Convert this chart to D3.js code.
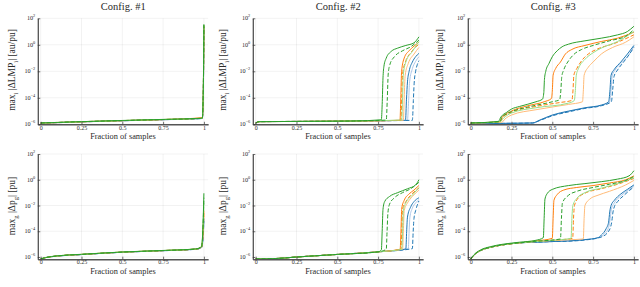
<!DOCTYPE html>
<html><head><meta charset="utf-8">
<script src="https://cdn.jsdelivr.net/npm/d3@7"></script>
<style>
body{margin:0;background:#fff}
svg{display:block}
text{font-family:"Liberation Serif","DejaVu Serif",serif;fill:#2a2a2a}
</style>
</head><body>
<svg id="c" width="640" height="287"></svg>
<script>
// ---------------- DATA ----------------
const titles = ["Config.  #1", "Config.  #2", "Config.  #3"];
const xTicks = [0, 0.25, 0.5, 0.75, 1];
const xTickLabels = ["0", "0.25", "0.5", "0.75", "1"];
const yTickExps = [2, 0, -2, -4, -6];          // ticks at 10^e
const xLabel = "Fraction of samples";
const seriesNames = ["blueLight","blueDashed","blueSolid","orangeLight","orangeDashed","orangeSolid","greenLight","greenDashed","greenSolid"];
// each series: [fraction of samples, log10(value)]
const cfg1Lmp = [
  [[0,-5.92],[0.25,-5.82],[0.5,-5.74],[0.75,-5.66],[0.99,-5.57],[0.996,-4.2],[1,1.2]],
  [[0,-5.92],[0.25,-5.82],[0.5,-5.73],[0.75,-5.65],[0.99,-5.56],[0.996,-4.1],[1,1.3]],
  [[0,-5.91],[0.25,-5.81],[0.5,-5.73],[0.75,-5.65],[0.99,-5.56],[0.996,-4.0],[1,1.35]],
  [[0,-5.92],[0.25,-5.82],[0.5,-5.73],[0.75,-5.65],[0.99,-5.55],[0.996,-4.0],[1,1.3]],
  [[0,-5.91],[0.25,-5.81],[0.5,-5.72],[0.75,-5.64],[0.99,-5.54],[0.996,-3.9],[1,1.4]],
  [[0,-5.9],[0.25,-5.8],[0.5,-5.72],[0.75,-5.64],[0.99,-5.5],[0.996,-3.8],[1,1.45]],
  [[0,-5.91],[0.25,-5.81],[0.5,-5.72],[0.75,-5.64],[0.99,-5.55],[0.996,-3.8],[1,1.45]],
  [[0,-5.9],[0.25,-5.8],[0.5,-5.72],[0.75,-5.64],[0.99,-5.55],[0.996,-3.7],[1,1.5]],
  [[0,-5.9],[0.25,-5.8],[0.5,-5.71],[0.75,-5.63],[0.99,-5.54],[0.996,-3.6],[1,1.55]]
];
const cfg1P = [
  [[0,-6.15],[0.03,-6.05],[0.1,-5.93],[0.25,-5.81],[0.5,-5.63],[0.75,-5.51],[0.95,-5.4],[0.985,-5.28],[0.993,-4.9],[1,-3.4]],
  [[0,-6.15],[0.03,-6.05],[0.1,-5.93],[0.25,-5.81],[0.5,-5.63],[0.75,-5.51],[0.95,-5.4],[0.985,-5.28],[0.993,-4.8],[1,-3.2]],
  [[0,-6.15],[0.03,-6.05],[0.1,-5.93],[0.25,-5.81],[0.5,-5.63],[0.75,-5.51],[0.95,-5.4],[0.985,-5.27],[0.993,-4.7],[1,-3.0]],
  [[0,-6.15],[0.03,-6.05],[0.1,-5.92],[0.25,-5.8],[0.5,-5.62],[0.75,-5.5],[0.95,-5.39],[0.985,-5.26],[0.993,-4.6],[1,-2.8]],
  [[0,-6.15],[0.03,-6.05],[0.1,-5.92],[0.25,-5.8],[0.5,-5.62],[0.75,-5.5],[0.95,-5.39],[0.985,-5.25],[0.993,-4.5],[1,-2.6]],
  [[0,-6.15],[0.03,-6.05],[0.1,-5.92],[0.25,-5.8],[0.5,-5.62],[0.75,-5.5],[0.95,-5.38],[0.985,-5.2],[0.993,-4.4],[1,-2.4]],
  [[0,-6.15],[0.03,-6.05],[0.1,-5.92],[0.25,-5.8],[0.5,-5.62],[0.75,-5.5],[0.95,-5.38],[0.985,-5.22],[0.993,-4.3],[1,-1.8]],
  [[0,-6.15],[0.03,-6.05],[0.1,-5.92],[0.25,-5.8],[0.5,-5.62],[0.75,-5.5],[0.95,-5.38],[0.985,-5.22],[0.993,-4.2],[1,-1.4]],
  [[0,-6.15],[0.03,-6.04],[0.1,-5.91],[0.25,-5.79],[0.5,-5.61],[0.75,-5.49],[0.95,-5.37],[0.985,-5.2],[0.993,-4.0],[1,-1.05]]
];
const cfg2Lmp = [
  [[0,-5.9],[0.02,-5.8],[0.3,-5.78],[0.6,-5.75],[0.93,-5.7],[0.937,-4.2],[0.943,-2.8],[0.96,-1.8],[0.98,-1.25],[1,-0.9]],
  [[0,-5.9],[0.02,-5.8],[0.3,-5.78],[0.6,-5.75],[0.96,-5.7],[0.966,-4.2],[0.971,-2.9],[0.98,-2.0],[0.99,-1.5],[1,-1.2]],
  [[0,-5.9],[0.02,-5.8],[0.3,-5.78],[0.6,-5.75],[0.918,-5.7],[0.924,-4.1],[0.93,-2.8],[0.94,-2.0],[0.96,-1.3],[0.98,-0.9],[1,-0.65]],
  [[0,-5.9],[0.02,-5.8],[0.3,-5.78],[0.6,-5.75],[0.905,-5.7],[0.91,-4.0],[0.916,-2.3],[0.935,-1.4],[0.97,-0.7],[1,-0.2]],
  [[0,-5.9],[0.02,-5.8],[0.3,-5.78],[0.6,-5.75],[0.89,-5.7],[0.895,-4.0],[0.9,-2.2],[0.92,-1.2],[0.95,-0.6],[1,0.05]],
  [[0,-5.9],[0.02,-5.8],[0.3,-5.78],[0.6,-5.75],[0.884,-5.7],[0.889,-4.0],[0.894,-2.0],[0.91,-1.0],[0.94,-0.45],[0.97,-0.1],[1,0.2]],
  [[0,-5.9],[0.02,-5.8],[0.3,-5.78],[0.6,-5.75],[0.895,-5.68],[0.9,-4.0],[0.905,-2.2],[0.92,-1.3],[0.96,-0.5],[1,0.25]],
  [[0,-5.9],[0.02,-5.8],[0.3,-5.78],[0.6,-5.75],[0.8,-5.68],[0.806,-4.2],[0.812,-2.2],[0.822,-1.5],[0.85,-0.9],[0.9,-0.45],[0.95,-0.15],[1,0.35]],
  [[0,-5.9],[0.02,-5.8],[0.3,-5.78],[0.6,-5.75],[0.77,-5.66],[0.775,-4.5],[0.78,-2.5],[0.786,-1.6],[0.8,-1.0],[0.83,-0.5],[0.87,-0.25],[0.92,-0.05],[0.97,0.15],[1,0.6]]
];
const cfg2P = [
  [[0,-6.15],[0.12,-6.12],[0.25,-6.0],[0.5,-5.8],[0.75,-5.6],[0.935,-5.35],[0.94,-4.0],[0.945,-2.9],[0.96,-2.2],[0.98,-1.8],[1,-1.55]],
  [[0,-6.15],[0.12,-6.12],[0.25,-6.0],[0.5,-5.8],[0.75,-5.6],[0.96,-5.35],[0.965,-4.0],[0.97,-3.0],[0.98,-2.4],[1,-1.65]],
  [[0,-6.15],[0.12,-6.12],[0.25,-6.0],[0.5,-5.8],[0.75,-5.6],[0.92,-5.38],[0.925,-4.0],[0.93,-2.9],[0.95,-2.1],[0.97,-1.7],[1,-1.4]],
  [[0,-6.15],[0.12,-6.12],[0.25,-6.0],[0.5,-5.8],[0.75,-5.6],[0.9,-5.4],[0.905,-4.0],[0.91,-2.4],[0.93,-1.8],[0.96,-1.3],[1,-0.8]],
  [[0,-6.15],[0.12,-6.12],[0.25,-6.0],[0.5,-5.8],[0.75,-5.6],[0.89,-5.4],[0.895,-4.0],[0.9,-2.3],[0.92,-1.7],[0.95,-1.2],[1,-0.65]],
  [[0,-6.15],[0.12,-6.12],[0.25,-6.0],[0.5,-5.8],[0.75,-5.6],[0.885,-5.4],[0.89,-4.0],[0.895,-2.2],[0.91,-1.6],[0.94,-1.1],[0.97,-0.8],[1,-0.45]],
  [[0,-6.15],[0.12,-6.12],[0.25,-6.0],[0.5,-5.8],[0.75,-5.6],[0.895,-5.4],[0.9,-4.0],[0.905,-2.4],[0.92,-1.8],[0.96,-1.2],[1,-0.6]],
  [[0,-6.15],[0.12,-6.12],[0.25,-6.0],[0.5,-5.8],[0.75,-5.6],[0.8,-5.4],[0.805,-4.0],[0.81,-2.6],[0.82,-1.9],[0.85,-1.4],[0.9,-1.0],[0.95,-0.7],[1,-0.2]],
  [[0,-6.15],[0.12,-6.12],[0.25,-6.0],[0.5,-5.8],[0.75,-5.6],[0.77,-5.45],[0.775,-4.0],[0.78,-2.3],[0.79,-1.7],[0.82,-1.3],[0.87,-1.0],[0.93,-0.7],[0.98,-0.4],[1,0]]
];
const cfg3Lmp = [
  [[0,-5.95],[0.2,-5.93],[0.38,-5.9],[0.42,-5.72],[0.5,-5.33],[0.6,-5.03],[0.7,-4.78],[0.8,-4.58],[0.852,-4.3],[0.86,-3.4],[0.867,-2.35],[0.885,-1.9],[0.93,-1.3],[0.97,-0.75],[1,-0.1]],
  [[0,-5.95],[0.2,-5.93],[0.38,-5.9],[0.42,-5.73],[0.5,-5.36],[0.6,-5.06],[0.7,-4.8],[0.8,-4.6],[0.862,-4.3],[0.87,-3.4],[0.878,-2.4],[0.9,-1.9],[0.94,-1.25],[0.97,-0.75],[1,-0.2]],
  [[0,-5.95],[0.2,-5.93],[0.38,-5.9],[0.42,-5.7],[0.5,-5.3],[0.6,-5.0],[0.7,-4.75],[0.8,-4.55],[0.845,-4.3],[0.853,-3.5],[0.86,-2.3],[0.88,-1.85],[0.92,-1.3],[0.96,-0.7],[1,-0.05]],
  [[0,-5.9],[0.19,-5.85],[0.21,-5.6],[0.25,-5.3],[0.4,-4.9],[0.6,-4.5],[0.685,-4.3],[0.69,-3.5],[0.695,-2.3],[0.72,-1.7],[0.75,-1.3],[0.8,-0.7],[0.87,-0.2],[0.95,0.2],[1,0.6]],
  [[0,-5.9],[0.18,-5.82],[0.195,-5.5],[0.25,-5.1],[0.4,-4.65],[0.55,-4.35],[0.62,-4.2],[0.627,-3.4],[0.632,-2.3],[0.65,-1.8],[0.68,-1.2],[0.72,-0.7],[0.78,-0.3],[0.88,0.1],[1,0.75]],
  [[0,-5.9],[0.18,-5.8],[0.19,-5.5],[0.25,-5.0],[0.35,-4.6],[0.45,-4.3],[0.495,-4.05],[0.5,-3.5],[0.505,-2.3],[0.52,-1.8],[0.55,-1.3],[0.58,-0.7],[0.62,-0.35],[0.7,-0.05],[0.8,0.25],[0.9,0.5],[1,0.95]],
  [[0,-5.9],[0.18,-5.82],[0.2,-5.55],[0.25,-5.15],[0.4,-4.75],[0.6,-4.4],[0.635,-4.2],[0.642,-3.3],[0.647,-2.3],[0.66,-1.8],[0.7,-1.1],[0.75,-0.6],[0.8,-0.25],[0.9,0.25],[1,1.0]],
  [[0,-5.9],[0.18,-5.8],[0.19,-5.5],[0.25,-5.05],[0.35,-4.7],[0.5,-4.3],[0.545,-4.15],[0.552,-3.5],[0.558,-2.4],[0.57,-1.9],[0.6,-1.2],[0.63,-0.75],[0.68,-0.35],[0.75,-0.05],[0.85,0.3],[0.95,0.65],[1,1.15]],
  [[0,-5.9],[0.17,-5.78],[0.185,-5.45],[0.22,-5.1],[0.25,-4.85],[0.3,-4.65],[0.4,-4.3],[0.44,-4.1],[0.448,-3.6],[0.452,-2.6],[0.46,-2.0],[0.48,-1.4],[0.5,-0.9],[0.53,-0.45],[0.56,-0.15],[0.6,0.05],[0.7,0.3],[0.8,0.5],[0.9,0.75],[0.96,1.0],[1,1.4]]
];
const cfg3P = [
  [[0,-6.15],[0.02,-5.85],[0.06,-5.5],[0.12,-5.25],[0.2,-5.05],[0.3,-4.9],[0.4,-4.85],[0.5,-4.8],[0.6,-4.76],[0.7,-4.66],[0.78,-4.5],[0.82,-4.2],[0.845,-3.7],[0.855,-3.0],[0.862,-2.3],[0.88,-1.8],[0.92,-1.25],[0.96,-0.85],[1,-0.48]],
  [[0,-6.15],[0.02,-5.85],[0.06,-5.5],[0.12,-5.25],[0.2,-5.05],[0.3,-4.9],[0.4,-4.85],[0.5,-4.8],[0.6,-4.77],[0.7,-4.68],[0.8,-4.45],[0.85,-3.9],[0.865,-3.2],[0.872,-2.5],[0.88,-2.1],[0.9,-1.7],[0.94,-1.2],[1,-0.55]],
  [[0,-6.15],[0.02,-5.85],[0.06,-5.5],[0.12,-5.25],[0.2,-5.05],[0.3,-4.9],[0.4,-4.85],[0.5,-4.8],[0.6,-4.75],[0.7,-4.65],[0.78,-4.5],[0.8,-4.3],[0.83,-3.8],[0.845,-3.3],[0.852,-2.5],[0.86,-2.0],[0.88,-1.6],[0.92,-1.1],[0.96,-0.75],[1,-0.4]],
  [[0,-6.15],[0.02,-5.85],[0.06,-5.5],[0.12,-5.25],[0.2,-5.05],[0.3,-4.9],[0.4,-4.8],[0.5,-4.72],[0.6,-4.66],[0.69,-4.6],[0.695,-3.0],[0.7,-2.0],[0.73,-1.5],[0.78,-1.2],[0.85,-0.9],[0.95,-0.4],[1,-0.05]],
  [[0,-6.15],[0.02,-5.85],[0.06,-5.5],[0.12,-5.25],[0.2,-5.05],[0.3,-4.9],[0.4,-4.8],[0.5,-4.7],[0.625,-4.55],[0.63,-3.0],[0.636,-2.0],[0.66,-1.4],[0.7,-1.05],[0.8,-0.7],[0.9,-0.35],[1,0.1]],
  [[0,-6.15],[0.02,-5.85],[0.06,-5.5],[0.12,-5.25],[0.2,-5.05],[0.3,-4.9],[0.4,-4.75],[0.5,-4.55],[0.505,-3.0],[0.51,-1.6],[0.53,-1.15],[0.57,-0.8],[0.65,-0.6],[0.75,-0.45],[0.85,-0.25],[0.95,0],[1,0.3]],
  [[0,-6.15],[0.02,-5.85],[0.06,-5.5],[0.12,-5.25],[0.2,-5.05],[0.3,-4.9],[0.4,-4.8],[0.5,-4.7],[0.615,-4.55],[0.62,-3.0],[0.626,-2.0],[0.65,-1.45],[0.7,-1.0],[0.8,-0.65],[0.9,-0.3],[1,0.15]],
  [[0,-6.15],[0.02,-5.85],[0.06,-5.5],[0.12,-5.25],[0.2,-5.05],[0.3,-4.9],[0.4,-4.78],[0.55,-4.6],[0.556,-3.0],[0.562,-1.8],[0.6,-1.2],[0.65,-0.9],[0.75,-0.6],[0.85,-0.35],[0.95,-0.05],[1,0.25]],
  [[0,-6.15],[0.02,-5.82],[0.06,-5.45],[0.12,-5.2],[0.2,-5.0],[0.3,-4.85],[0.4,-4.7],[0.445,-4.5],[0.45,-3.0],[0.455,-1.5],[0.47,-1.05],[0.5,-0.75],[0.6,-0.45],[0.7,-0.3],[0.8,-0.15],[0.9,0.05],[0.97,0.3],[1,0.7]]
];

// ---------------- STYLE / LAYOUT ----------------
const seriesStyle = {
  blueLight:   {color:"#aec7e8", dash:null},
  blueDashed:  {color:"#1f77b4", dash:"4,2"},
  blueSolid:   {color:"#1f77b4", dash:null},
  orangeLight: {color:"#ffbb78", dash:null},
  orangeDashed:{color:"#ff7f0e", dash:"4,2"},
  orangeSolid: {color:"#ff7f0e", dash:null},
  greenLight:  {color:"#98df8a", dash:null},
  greenDashed: {color:"#2ca02c", dash:"4,2"},
  greenSolid:  {color:"#2ca02c", dash:null}
};
const colZero = [40.7, 255.7, 470.7];
const unit = 163.2;
const xDom = [-0.018, 1.026];
const rows = [
  {lo:-6, yBot:124.3, yTop:18.3, xLabY:139, yLabY:70,
   yLab:[["max",0],["i",-1],[" |ΔLMP",0],["i",-1],["|  [au/pu]",0]], data:[cfg1Lmp,cfg2Lmp,cfg3Lmp]},
  {lo:-6.17, yBot:259.2, yTop:154, xLabY:273.5, yLabY:206,
   yLab:[["max",0],["g",-1],[" |Δp",0],["g",-1],["|  [pu]",0]], data:[cfg1P,cfg2P,cfg3P]}
];
const yLabX = [15, 226, 442.5];

const svg = d3.select("#c");

function rich(t, parts, base){
  parts.forEach(([s,k],i)=>{
    const ts = t.append("tspan").text(s);
    const prev = parts[i-1];
    if(k===-1){ ts.attr("font-size", base*0.7).attr("dy", base*0.3); }
    else {
      ts.attr("font-size", base);
      if(prev && prev[1]===-1) ts.attr("dy", -base*0.3);
    }
  });
}

// titles
titles.forEach((t,c)=>{
  svg.append("text").attr("x", colZero[c]+unit*0.5+1).attr("y", 9.5)
    .attr("text-anchor","middle").attr("font-size",10.5).attr("fill","#333").text(t);
});

rows.forEach((row,r)=>{
  row.data.forEach((panelData,c)=>{
    const x = d3.scaleLinear().domain(xDom).range([colZero[c]+xDom[0]*unit, colZero[c]+xDom[1]*unit]);
    const y = d3.scaleLog().domain([Math.pow(10,row.lo), 100]).range([row.yBot, row.yTop]);
    const g = svg.append("g");
    const [x0,x1] = x.range();

    // grid
    g.append("g").selectAll("line").data(xTicks).join("line")
      .attr("x1",d=>x(d)).attr("x2",d=>x(d)).attr("y1",row.yTop).attr("y2",row.yBot)
      .attr("stroke","#000").attr("stroke-opacity",0.09).attr("stroke-width",0.6);
    g.append("g").selectAll("line").data(yTickExps).join("line")
      .attr("x1",x0).attr("x2",x1).attr("y1",d=>y(Math.pow(10,d))).attr("y2",d=>y(Math.pow(10,d)))
      .attr("stroke","#000").attr("stroke-opacity",0.09).attr("stroke-width",0.6);

    // clip
    const cid = `clip${r}${c}`;
    svg.append("clipPath").attr("id",cid).append("rect")
      .attr("x",x0).attr("y",row.yTop-2).attr("width",x1-x0).attr("height",row.yBot-row.yTop+2);

    const line = d3.line().x(d=>x(d[0])).y(d=>y(Math.pow(10,d[1]))).curve(d3.curveMonotoneX);
    const lg = g.append("g").attr("clip-path",`url(#${cid})`);
    panelData.forEach((pts,i)=>{
      const st = seriesStyle[seriesNames[i]];
      lg.append("path").attr("d", line(pts)).attr("fill","none")
        .attr("stroke", st.color).attr("stroke-width",1)
        .attr("stroke-dasharray", st.dash);
    });

    // x axis
    const xa = d3.axisBottom(x).tickValues(xTicks).tickFormat((d,i)=>xTickLabels[i])
      .tickSizeInner(-2.5).tickSizeOuter(0).tickPadding(1);
    const xg = g.append("g").attr("transform",`translate(0,${row.yBot})`).call(xa);
    xg.select(".domain").attr("stroke","#555").attr("stroke-width",1.4);
    xg.selectAll(".tick line").attr("stroke","#333").attr("stroke-width",0.7);
    xg.selectAll(".tick text").attr("font-size",6).attr("fill","#2a2a2a")
      .attr("font-family",'"Liberation Serif","DejaVu Serif",serif');

    // y axis
    const ya = d3.axisLeft(y).tickValues(yTickExps.map(e=>Math.pow(10,e)))
      .tickSizeInner(-2.5).tickSizeOuter(0).tickPadding(2.5).tickFormat("");
    const yg = g.append("g").attr("transform",`translate(${x0},0)`).call(ya);
    yg.select(".domain").attr("stroke","#333").attr("stroke-width",1.1);
    yg.selectAll(".tick line").attr("stroke","#333").attr("stroke-width",0.7);
    yTickExps.forEach(e=>{
      const t = g.append("text").attr("x", x0-2.5).attr("y", y(Math.pow(10,e))+2)
        .attr("text-anchor","end");
      t.append("tspan").attr("font-size",6.2).text("10");
      t.append("tspan").attr("font-size",4.3).attr("dy",-3).text(String(e).replace("-","−"));
    });

    // x label
    g.append("text").attr("x",(x0+x1)/2).attr("y",row.xLabY).attr("text-anchor","middle")
      .attr("font-size",8.3).text(xLabel);

    // y label
    const yl = g.append("text").attr("text-anchor","middle")
      .attr("transform",`translate(${yLabX[c]},${row.yLabY}) rotate(-90)`);
    rich(yl, row.yLab, 9.5);
  });
});
</script>
</body></html>
